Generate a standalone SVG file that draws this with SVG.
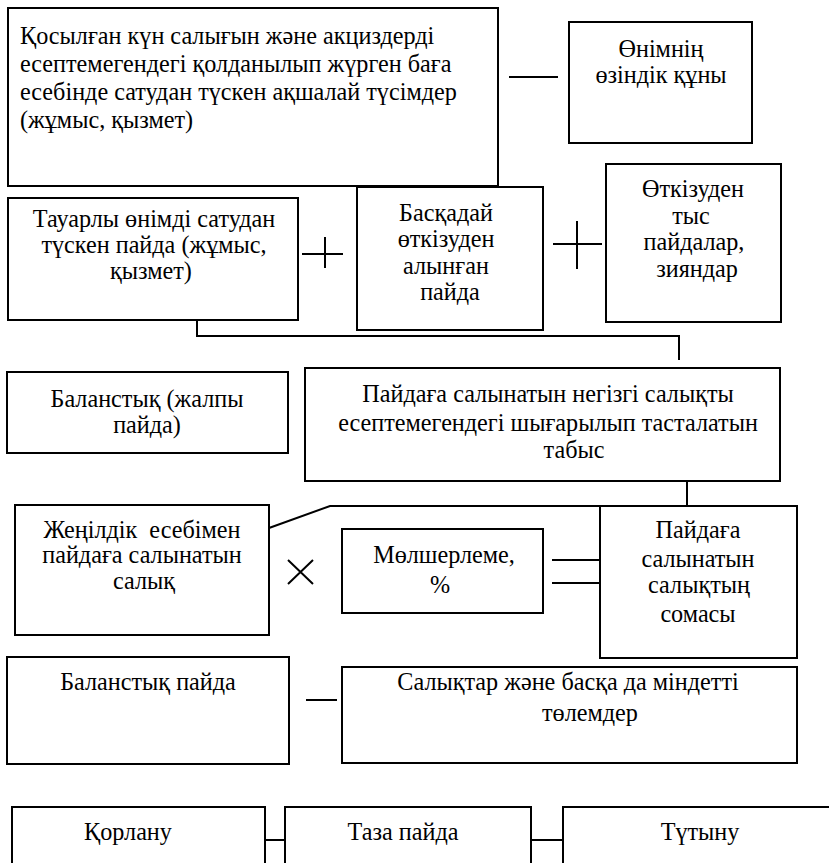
<svg xmlns="http://www.w3.org/2000/svg" width="829" height="863" viewBox="0 0 829 863">
<style>
.b{fill:#fff;stroke:#000;stroke-width:2}
.c{fill:none;stroke:#000;stroke-width:2}
text{font-family:"Liberation Serif","Times New Roman",serif;font-size:24.2px;fill:#000}
.m{text-anchor:middle}
</style>
<rect width="829" height="863" fill="#fff"/>
<g id="n1"><rect class="b" x="8" y="8" width="490" height="178"/>
<text x="20" y="44">Қосылған күн салығын және акциздерді</text>
<text x="20" y="72">есептемегендегі қолданылып жүрген баға</text>
<text x="20" y="100">есебінде сатудан түскен ақшалай түсімдер</text>
<text x="20" y="128">(жұмыс, қызмет)</text></g>
<g id="n2"><rect class="b" x="569" y="22" width="183" height="121"/>
<text class="m" x="661" y="57">Өнімнің</text>
<text class="m" x="661" y="83">өзіндік құны</text></g>
<g id="n3"><rect class="b" x="8" y="198" width="290" height="122"/>
<text class="m" x="154" y="227">Тауарлы өнімді сатудан</text>
<text class="m" x="154" y="253">түскен пайда (жұмыс,</text>
<text class="m" x="151" y="279">қызмет)</text></g>
<g id="n4"><rect class="b" x="357" y="187" width="186" height="143"/>
<text class="m" x="446" y="221">Басқадай</text>
<text class="m" x="446" y="247">өткізуден</text>
<text class="m" x="446" y="274">алынған</text>
<text class="m" x="450" y="300">пайда</text></g>
<g id="n5"><rect class="b" x="606" y="164" width="175" height="158"/>
<text class="m" x="693" y="197">Өткізуден</text>
<text class="m" x="691" y="224">тыс</text>
<text class="m" x="694" y="250">пайдалар,</text>
<text class="m" x="697" y="277">зияндар</text></g>
<g id="n6"><rect class="b" x="305" y="368" width="475" height="113"/>
<text class="m" x="548" y="402">Пайдаға салынатын негізгі салықты</text>
<text class="m" x="548" y="431">есептемегендегі шығарылып тасталатын</text>
<text class="m" x="574" y="458">табыс</text></g>
<g id="n7"><rect class="b" x="7" y="372" width="281" height="81"/>
<text class="m" x="147" y="407">Баланстық (жалпы</text>
<text class="m" x="147" y="433">пайда)</text></g>
<g id="n8"><rect class="b" x="15" y="505" width="254" height="130"/>
<text class="m" x="142" y="538" xml:space="preserve">Жеңілдік  есебімен</text>
<text class="m" x="142" y="563">пайдаға салынатын</text>
<text class="m" x="144" y="589">салық</text></g>
<g id="n9"><rect class="b" x="600" y="506" width="197" height="152"/>
<text class="m" x="698" y="538">Пайдаға</text>
<text class="m" x="698" y="567">салынатын</text>
<text class="m" x="699" y="593">салықтың</text>
<text class="m" x="698" y="622">сомасы</text></g>
<g id="n10"><rect class="b" x="342" y="529" width="201" height="84"/>
<text class="m" x="444" y="563">Мөлшерлеме,</text>
<text class="m" x="440" y="593">%</text></g>
<g id="n11"><rect class="b" x="7" y="657" width="282" height="107"/>
<text class="m" x="148" y="690">Баланстық пайда</text></g>
<g id="n12"><rect class="b" x="342" y="667" width="455" height="96"/>
<text class="m" x="568" y="690">Салықтар және басқа да міндетті</text>
<text class="m" x="590" y="721">төлемдер</text></g>
<g id="n13"><rect class="b" x="12" y="807" width="253" height="70"/>
<text class="m" x="128" y="840">Қорлану</text></g>
<g id="n14"><rect class="b" x="285" y="807" width="246" height="70"/>
<text class="m" x="403" y="840">Таза пайда</text></g>
<g id="n15"><rect class="b" x="563" y="807" width="280" height="70"/>
<text class="m" x="700" y="840">Түтыну</text></g>
<g id="connectors">
<path class="c" d="M509 77H558"/>
<path class="c" d="M302 254H343M325 237V268"/>
<path class="c" d="M553 244H602M577 221V269"/>
<path class="c" d="M197 320V336H679V360"/>
<path class="c" d="M687 481V506"/>
<path class="c" d="M269 528L330 506H797"/>
<path class="c" d="M288 560L313 584M313 560L288 584"/>
<path class="c" d="M552 560H600M552 583H600"/>
<path class="c" d="M306 700H337"/>
<path class="c" d="M265 840H285M531 840H563"/>
</g>
</svg>
